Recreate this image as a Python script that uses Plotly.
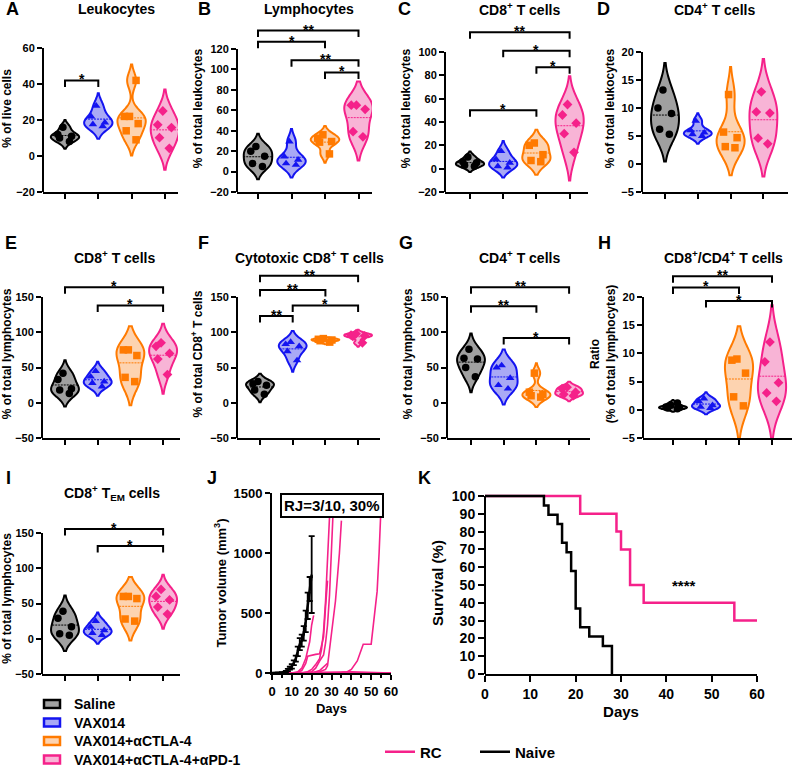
import plotly.graph_objects as go

W, H = 795, 768
FONT = "Liberation Sans, Arial, sans-serif"

# ---------------- data ----------------
groups = ["Saline", "VAX014", "VAX014+αCTLA-4", "VAX014+αCTLA-4+αPD-1"]
line_colors = ["#000000", "#1414F0", "#FF7A00", "#F5218A"]
fill_colors = ["#A0A0A0", "#A9A9F5", "#FDD3B0", "#F8B4D6"]
symbols = ["circle", "triangle-up", "square", "diamond"]

leuko_vals = [[8, 10, 11, 12, 16], [16.5, 17.6, 18.6, 21.9, 27.9],
              [9, 14, 18, 22, 22, 42], [4.3, 10.2, 15.8, 17.3, 25]]
lympho_vals = [[5, 8, 15, 20, 24.5], [6.5, 8, 11.5, 14.7, 29.4],
               [17.3, 28.8, 29.4, 32.7, 36], [34, 39, 61, 65, 65]]
cd8_leuko_vals = [[2, 3, 5, 6, 10], [1, 2, 5, 8, 15],
                  [6, 7, 12, 20, 22], [14, 30, 39, 46, 55]]
cd4_leuko_vals = [[5.3, 6.2, 9, 10, 13.2], [5, 5.3, 5.6, 6, 7.7],
                  [2.9, 3.1, 4.7, 5.7, 12.4], [3.6, 4.6, 9.1, 9.3, 12.9]]
cd8_lymph_vals = [[13, 18, 20, 33, 42], [23, 28, 30, 37, 45],
                  [30, 36, 67, 75, 75], [40, 62, 70, 80, 85]]
cyto_vals = [[12, 18, 25, 27, 30], [60, 73, 80, 83, 86],
             [86, 88, 89, 90, 91], [85, 94, 95, 96, 98]]
cd4_lymph_vals = [[37, 50, 62, 63, 76], [20, 25, 35, 50, 53],
                  [8, 10, 12, 15, 42], [10, 12, 15, 20, 22]]
ratio_vals = [[0.2, 0.3, 0.4, 0.5, 0.8, 1.2], [0.3, 0.5, 0.8, 1.5, 2.0],
              [0.7, 2.3, 6.5, 8.8, 9.0], [1.5, 3.0, 4.8, 8.5, 12]]
tem_vals = [[5, 7, 17, 29, 39], [5, 8, 12, 17, 25],
            [25, 28, 57, 60, 60], [35, 45, 55, 60, 70]]

# significance brackets: (group1, group2, y, label)
sig_A = [(0, 1, 42, "*")]
sig_B = [(0, 3, 138, "**"), (0, 2, 127, "*"), (1, 3, 109, "**"), (2, 3, 97, "*")]
sig_C = [(0, 3, 117, "**"), (1, 3, 101, "*"), (2, 3, 87, "*"), (0, 2, 50, "*")]
sig_D = []
sig_E = [(0, 3, 164, "*"), (1, 3, 138, "*")]
sig_F = [(0, 3, 180, "**"), (0, 2, 160, "**"), (1, 3, 138, "*"), (0, 1, 123, "**")]
sig_G = [(0, 3, 164, "**"), (0, 2, 137, "**"), (1, 3, 92, "*")]
sig_H = [(0, 3, 23.7, "**"), (0, 2, 21.7, "*"), (1, 3, 19.3, "*")]
sig_I = [(0, 3, 155.6, "*"), (1, 3, 131.6, "*")]

ticks_A = [-20, 0, 20, 40, 60]
ticks_B = [-20, 0, 20, 40, 60, 80, 100, 120]
ticks_C = [-20, 0, 20, 40, 60, 80, 100]
ticks_D = [-5, 0, 5, 10, 15, 20]
ticks_pct = [-50, 0, 50, 100, 150]
ticks_H = [-5, 0, 5, 10, 15, 20]

# tumor growth (J)
naive_mean_days = [0, 3, 5, 7, 8, 9, 10, 11, 12, 13, 14, 15, 16, 17, 18, 19, 20]
naive_mean_vol = [0, 2, 5, 12, 25, 40, 55, 85, 120, 180, 240, 270, 330, 430, 560, 700, 820]
naive_sem_vol = [0, 1, 3, 5, 10, 12, 18, 20, 25, 40, 50, 50, 60, 90, 110, 100, 320]
rc_mice_days = [
    [0, 10, 13, 15, 17, 19, 20, 21],
    [0, 12, 15, 17, 18, 20, 22, 24, 26, 27, 28],
    [0, 15, 18, 20, 22, 24, 25, 26, 27, 28, 29, 30],
    [0, 15, 20, 22, 24, 26, 27, 28, 29, 30, 31, 32],
    [0, 20, 24, 27, 28, 29, 30, 32, 34, 35],
    [0, 25, 30, 35, 38, 40, 43, 46, 50, 52, 53, 54, 55, 56],
    [0, 20, 24, 26, 28],
    [0, 10, 20, 30, 40, 50, 60],
    [0, 10, 20, 30, 40, 50, 60],
    [0, 10, 20, 30, 40, 50, 60],
]
rc_mice_vol = [
    [0, 0, 10, 40, 120, 260, 400, 480],
    [0, 0, 20, 80, 140, 150, 155, 160, 300, 550, 770],
    [0, 0, 10, 30, 70, 120, 200, 350, 600, 900, 1300, 1700],
    [0, 0, 10, 40, 100, 150, 250, 400, 650, 1000, 1400, 1800],
    [0, 0, 10, 30, 60, 200, 300, 600, 1000, 1270],
    [0, 0, 0, 5, 10, 30, 100, 240, 240, 500, 680, 1000, 1400, 1800],
    [0, 0, 20, 50, 80],
    [0, 0, 0, 5, 10, 5, 0],
    [0, 0, 2, 4, 6, 3, 0],
    [0, 0, 0, 2, 3, 2, 0],
]

# survival (K)
rc_surv_days = [0, 21, 29, 30, 32, 35, 55, 60]
rc_surv_pct = [100, 90, 80, 70, 50, 40, 30, 30]
naive_surv_days = [0, 13, 14, 16, 17, 18, 19, 20, 21, 23, 26, 28]
naive_surv_pct = [100, 94.7, 89.5, 84.2, 73.7, 68.4, 57.9, 36.8, 26.3, 21.1, 15.8, 0]

# ---------------- figure ----------------
fig = go.Figure()
lay = {}
shapes = []
annotations = []


def bold(size):
    return dict(family=FONT, size=size, color="black", weight="bold")


def ax_ids(idx):
    s = "" if idx == 1 else str(idx)
    return "x" + s, "y" + s, "xaxis" + s, "yaxis" + s


def add_violin_panel(idx, vals, sig, ticks, ytitle, geom):
    xl, xr, g0, sp, yb, ytt, ydom_top = geom
    xa, ya, xk, yk = ax_ids(idx)
    ymin, ytop = ticks[0], ticks[-1]
    ppu = (yb - ytt) / (ytop - ymin)
    ymax = ymin + (yb - ydom_top) / ppu
    lay[xk] = dict(domain=[xl / W, xr / W], range=[(xl - g0) / sp, (xr - g0) / sp],
                   anchor=ya, showline=True, linecolor="black", linewidth=2,
                   ticks="outside", tickvals=[0, 1, 2, 3], ticklen=5, tickwidth=2,
                   tickcolor="black", showticklabels=False, showgrid=False,
                   zeroline=False, fixedrange=True, automargin=False)
    lay[yk] = dict(domain=[1 - yb / H, 1 - ydom_top / H], range=[ymin, ymax],
                   anchor=xa, showline=False, tickvals=ticks, ticks="outside",
                   ticklen=5, tickwidth=2, tickcolor="black", showgrid=False,
                   zeroline=False, tickfont=bold(11), fixedrange=True, automargin=False,
                   title=dict(text=ytitle, font=bold(12), standoff=4))
    shapes.append(dict(type="line", xref=f"{xa} domain", x0=0, x1=0, yref=ya,
                       y0=ymin, y1=ytop, line=dict(color="black", width=2)))
    for i, v in enumerate(vals):
        fig.add_trace(go.Violin(
            x0=i, y=v, name=groups[i], xaxis=xa, yaxis=ya,
            line=dict(color=line_colors[i], width=2), fillcolor=fill_colors[i],
            points="all", pointpos=0, jitter=0.6, spanmode="soft",
            scalemode="width", width=0.85,
            marker=dict(symbol=symbols[i], color=line_colors[i], size=7.5),
            meanline=dict(visible=True, color=line_colors[i], width=1),
            box=dict(visible=False), hoverinfo="skip", showlegend=False))
    leg = 6.5 / ppu
    for g1, g2, y, txt in sig:
        fig.add_trace(go.Scatter(x=[g1, g1, g2, g2], y=[y - leg, y, y, y - leg], mode="lines",
                                 line=dict(color="black", width=2), xaxis=xa, yaxis=ya,
                                 showlegend=False, hoverinfo="skip"))
        annotations.append(dict(x=(g1 + g2) / 2, y=y, xref=xa, yref=ya, text=txt,
                                showarrow=False, yanchor="bottom", yshift=-9, font=bold(14)))


# geometry in pixels: x_left, x_right, first_group_px, spacing, y_bottom, y_toptick, y_domain_top
add_violin_panel(1, leuko_vals, sig_A, ticks_A, "% of live cells", (43, 178, 65, 33.3, 192, 48, 25))
add_violin_panel(2, lympho_vals, sig_B, ticks_B, "% of total leukocytes", (237, 372, 258, 33.5, 192, 49, 25))
add_violin_panel(3, cd8_leuko_vals, sig_C, ticks_C, "% of total leukocytes", (445, 588, 470, 33.2, 192, 52, 25))
add_violin_panel(4, cd4_leuko_vals, sig_D, ticks_D, "% of total leukocytes", (642, 788, 665, 32.8, 192, 52, 25))
add_violin_panel(5, cd8_lymph_vals, sig_E, ticks_pct, "% of total lymphocytes", (42, 180, 65, 32.7, 438, 297, 270))
add_violin_panel(6, cyto_vals, sig_F, ticks_pct, "% of total CD8<sup>+</sup> T cells", (237, 380, 260, 32.7, 438, 297, 270))
add_violin_panel(7, cd4_lymph_vals, sig_G, ticks_pct, "% of total lymphocytes", (447, 590, 471, 32.7, 438, 297, 270))
add_violin_panel(8, ratio_vals, sig_H, ticks_H, "Ratio<br>(% of total lymphocytes)", (643, 792, 673, 33, 438, 297, 270))
add_violin_panel(9, tem_vals, sig_I, ticks_pct, "% of total lymphocytes", (42, 180, 65, 32.7, 674, 533, 523))

# ---- group legend (bottom left) ----
for i, g in enumerate(groups):
    yc = 704 + i * 18.5
    shapes.append(dict(type="rect", xref="paper", yref="paper", x0=44 / W, x1=60 / W,
                       y0=1 - (yc + 4) / H, y1=1 - (yc - 4) / H, fillcolor=fill_colors[i],
                       line=dict(color=line_colors[i], width=2.5)))
    annotations.append(dict(x=72 / W, y=1 - yc / H, xref="paper", yref="paper", text=g,
                            showarrow=False, xanchor="left", yanchor="middle", font=bold(14)))

# ---- J: tumor volume ----
for d, v in zip(rc_mice_days, rc_mice_vol):
    fig.add_trace(go.Scatter(x=d, y=v, mode="lines", line=dict(color="#F5218A", width=1.6),
                             xaxis="x10", yaxis="y10", showlegend=False, hoverinfo="skip"))
fig.add_trace(go.Scatter(x=naive_mean_days, y=naive_mean_vol, mode="lines",
                         line=dict(color="black", width=2.5),
                         error_y=dict(type="data", array=naive_sem_vol, color="black",
                                      thickness=1.8, width=3),
                         xaxis="x10", yaxis="y10", showlegend=False, hoverinfo="skip"))
lay["xaxis10"] = dict(domain=[272 / W, 391 / W], range=[0, 60], anchor="y10", showline=True,
                      linecolor="black", linewidth=2, ticks="outside", dtick=10, ticklen=5,
                      tickwidth=2, tickcolor="black", tickfont=bold(13), showgrid=False,
                      zeroline=False, minor=dict(dtick=5, ticks="outside", ticklen=3,
                                                 tickwidth=2, tickcolor="black"),
                      title=dict(text="Days", font=bold(13), standoff=6), fixedrange=True,
                      automargin=False)
lay["yaxis10"] = dict(domain=[1 - 673 / H, 1 - 493 / H], range=[0, 1500], anchor="x10",
                      showline=True, linecolor="black", linewidth=2, ticks="outside",
                      tickvals=[0, 500, 1000, 1500], ticklen=5, tickwidth=2, tickcolor="black",
                      tickfont=bold(13), showgrid=False, zeroline=False, fixedrange=True,
                      automargin=False,
                      title=dict(text="Tumor volume (mm<sup>3</sup>)", font=bold(13), standoff=4))
annotations.append(dict(x=332 / W, y=1 - 505 / H, xref="paper", yref="paper",
                        text="RJ=3/10, 30%", showarrow=False, font=bold(15),
                        bordercolor="black", borderwidth=2, borderpad=2, bgcolor="white"))

# ---- K: survival ----
fig.add_trace(go.Scatter(x=rc_surv_days, y=rc_surv_pct, mode="lines", name="RC",
                         line=dict(color="#F5218A", width=2.5, shape="hv"),
                         xaxis="x11", yaxis="y11", hoverinfo="skip"))
fig.add_trace(go.Scatter(x=naive_surv_days, y=naive_surv_pct, mode="lines", name="Naive",
                         line=dict(color="black", width=2.5, shape="hv"),
                         xaxis="x11", yaxis="y11", hoverinfo="skip"))
k_ppu = (674 - 496) / 100
lay["xaxis11"] = dict(domain=[485 / W, 757 / W], range=[0, 60], anchor="y11", showline=True,
                      linecolor="black", linewidth=2, ticks="outside", dtick=10, ticklen=6,
                      tickwidth=2, tickcolor="black", tickfont=bold(14), showgrid=False,
                      zeroline=False, title=dict(text="Days", font=bold(15), standoff=6),
                      fixedrange=True, automargin=False)
lay["yaxis11"] = dict(domain=[1 - 674 / H, 1 - 492 / H], range=[0, (674 - 492) / k_ppu],
                      anchor="x11", showline=False, ticks="outside", tickvals=list(range(0, 101, 10)),
                      ticklen=6, tickwidth=2, tickcolor="black", tickfont=bold(14),
                      showgrid=False, zeroline=False, fixedrange=True, automargin=False,
                      title=dict(text="Survival (%)", font=bold(15), standoff=4))
shapes.append(dict(type="line", xref="x11 domain", x0=0, x1=0, yref="y11", y0=0, y1=100,
                   line=dict(color="black", width=2)))
annotations.append(dict(x=44, y=50, xref="x11", yref="y11", text="****", showarrow=False,
                        font=bold(15)))

# ---- titles & panel letters ----
titles = [("Leukocytes", 116, 9), ("Lymphocytes", 309, 9), ("CD8<sup>+</sup> T cells", 519, 9),
          ("CD4<sup>+</sup> T cells", 714, 9), ("CD8<sup>+</sup> T cells", 114, 257),
          ("Cytotoxic CD8<sup>+</sup> T cells", 309, 257), ("CD4<sup>+</sup> T cells", 519, 257),
          ("CD8<sup>+</sup>/CD4<sup>+</sup> T cells", 723, 257),
          ("CD8<sup>+</sup> T<sub>EM</sub> cells", 112, 493)]
for t, x, y in titles:
    annotations.append(dict(x=x / W, y=1 - y / H, xref="paper", yref="paper", text=t,
                            showarrow=False, font=bold(14), xanchor="center", yanchor="middle"))
letters = [("A", 4, 9), ("B", 196, 9), ("C", 396, 9), ("D", 595, 9), ("E", 3, 243),
           ("F", 196, 243), ("G", 397, 243), ("H", 596, 243), ("I", 4, 478),
           ("J", 205, 478), ("K", 416, 478)]
for t, x, y in letters:
    annotations.append(dict(x=x / W, y=1 - y / H, xref="paper", yref="paper", text=t,
                            showarrow=False, font=bold(18), xanchor="left", yanchor="middle"))

fig.update_layout(
    width=W, height=H, margin=dict(l=0, r=0, t=0, b=0, autoexpand=False),
    paper_bgcolor="white", plot_bgcolor="white", violinmode="overlay",
    shapes=shapes, annotations=annotations,
    legend=dict(x=380 / W, y=1 - 752 / H, xanchor="left", yanchor="middle", orientation="h",
                font=bold(15), bgcolor="rgba(0,0,0,0)", entrywidth=50,
                entrywidthmode="pixels"),
    **lay,
)
fig.write_html("out.html", config={"displayModeBar": False},
               post_script="document.body.style.margin='0';document.body.style.overflow='hidden';")
